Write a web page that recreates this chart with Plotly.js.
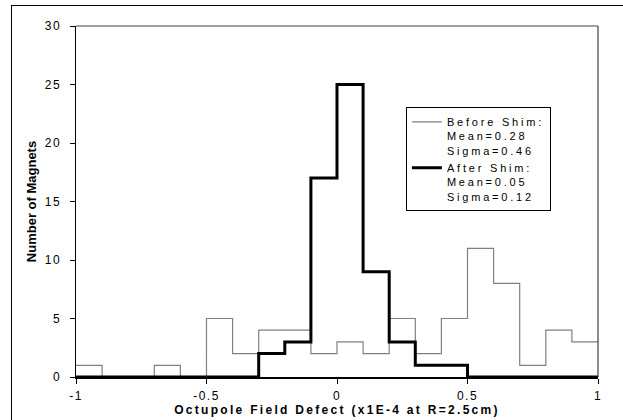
<!DOCTYPE html>
<html>
<head>
<meta charset="utf-8">
<script src="https://cdn.plot.ly/plotly-3.0.1.min.js"></script>
<style>
  html, body { margin: 0; padding: 0; background: #fff; overflow: hidden; }
  #wrap { position: relative; width: 623px; height: 420px; overflow: hidden; }
  #chart { width: 623px; height: 420px; }
  #frame { position: absolute; left: 11px; top: 5px; width: 800px; height: 600px;
           border-left: 1.5px solid #000; border-top: 1.5px solid #000; pointer-events: none; }
  .xtick text, .ytick text { letter-spacing: 1.5px; }
  .legendtext { letter-spacing: 2.8px; }
  .xtitle { letter-spacing: 2.3px; }
</style>
</head>
<body>
<div id="wrap">
<div id="chart"></div>
<div id="frame"></div>
</div>
<script>
// Bin edges (x1E-4 at R=2.5cm), 0.1 wide from -1 to 1
const binEdges = [-1, -0.9, -0.8, -0.7, -0.6, -0.5, -0.4, -0.3, -0.2, -0.1, 0,
                  0.1, 0.2, 0.3, 0.4, 0.5, 0.6, 0.7, 0.8, 0.9, 1];
// Number of magnets in each bin
const beforeCounts = [1, 0, 0, 1, 0, 5, 2, 4, 4, 2, 3, 2, 5, 2, 5, 11, 8, 1, 4, 3];
const afterCounts  = [0, 0, 0, 0, 0, 0, 0, 2, 3, 17, 25, 9, 3, 1, 1, 0, 0, 0, 0, 0];
const beforeName = "Before Shim:<br>Mean=0.28<br>Sigma=0.46";
const afterName  = "After Shim:<br>Mean=0.05<br>Sigma=0.12";
const xTickVals = [-1, -0.5, 0, 0.5, 1];
const xTickText = ["-1", "-0.5", "0", "0.5", "1"];
const yTickVals = [0, 5, 10, 15, 20, 25, 30];
const yTickText = ["0", "5", "10", "15", "20", "25", "30"];

function stepY(counts) { return counts.concat([counts[counts.length - 1]]); }

const FONT = "Arial, 'Liberation Sans', sans-serif";

const traces = [
  {
    type: "scatter", mode: "lines", name: beforeName,
    x: binEdges, y: stepY(beforeCounts),
    line: { shape: "hv", color: "#808080", width: 1.2 }
  },
  {
    type: "scatter", mode: "lines", name: afterName,
    x: binEdges, y: stepY(afterCounts),
    line: { shape: "hv", color: "#000000", width: 3 }
  }
];

const layout = {
  width: 623, height: 420,
  margin: { l: 76, r: 25, t: 26, b: 43 },
  paper_bgcolor: "#fff", plot_bgcolor: "#fff",
  font: { family: FONT, size: 12, color: "#000" },
  showlegend: true,
  legend: {
    x: 0.632, y: 0.7686, xanchor: "left", yanchor: "top",
    bgcolor: "#fff", bordercolor: "#000", borderwidth: 1,
    font: { family: FONT, size: 11, color: "#000" },
    valign: "top", tracegroupgap: 0
  },
  xaxis: {
    range: [-1, 1], tickvals: xTickVals, ticktext: xTickText,
    ticks: "outside", ticklen: 5, tickcolor: "#000", tickwidth: 1,
    ticklabelstandoff: 2,
    showline: true, linecolor: "#000", linewidth: 1.5,
    showgrid: false, zeroline: false,
    tickfont: { family: FONT, size: 12, color: "#000" },
    title: { text: "<b>Octupole Field Defect (x1E-4 at R=2.5cm)</b>",
             font: { family: FONT, size: 12, color: "#000" }, standoff: 0 }
  },
  yaxis: {
    range: [0, 30], tickvals: yTickVals, ticktext: yTickText,
    ticks: "outside", ticklen: 5, tickcolor: "#000", tickwidth: 1,
    ticklabelstandoff: 6,
    showline: true, linecolor: "#000", linewidth: 1.5,
    showgrid: false, zeroline: false,
    tickfont: { family: FONT, size: 12, color: "#000" },
    title: { text: "<b>Number of Magnets</b>",
             font: { family: FONT, size: 13, color: "#000" }, standoff: 5 }
  },
  shapes: [
    { type: "line", xref: "paper", yref: "paper", x0: 0, x1: 1, y0: 1, y1: 1,
      line: { color: "#808080", width: 1.5 } },
    { type: "line", xref: "paper", yref: "paper", x0: 1, x1: 1, y0: 0, y1: 1,
      line: { color: "#404040", width: 1.2 } }
  ]
};

Plotly.newPlot("chart", traces, layout, { displayModeBar: false, staticPlot: true });
</script>
</body>
</html>
